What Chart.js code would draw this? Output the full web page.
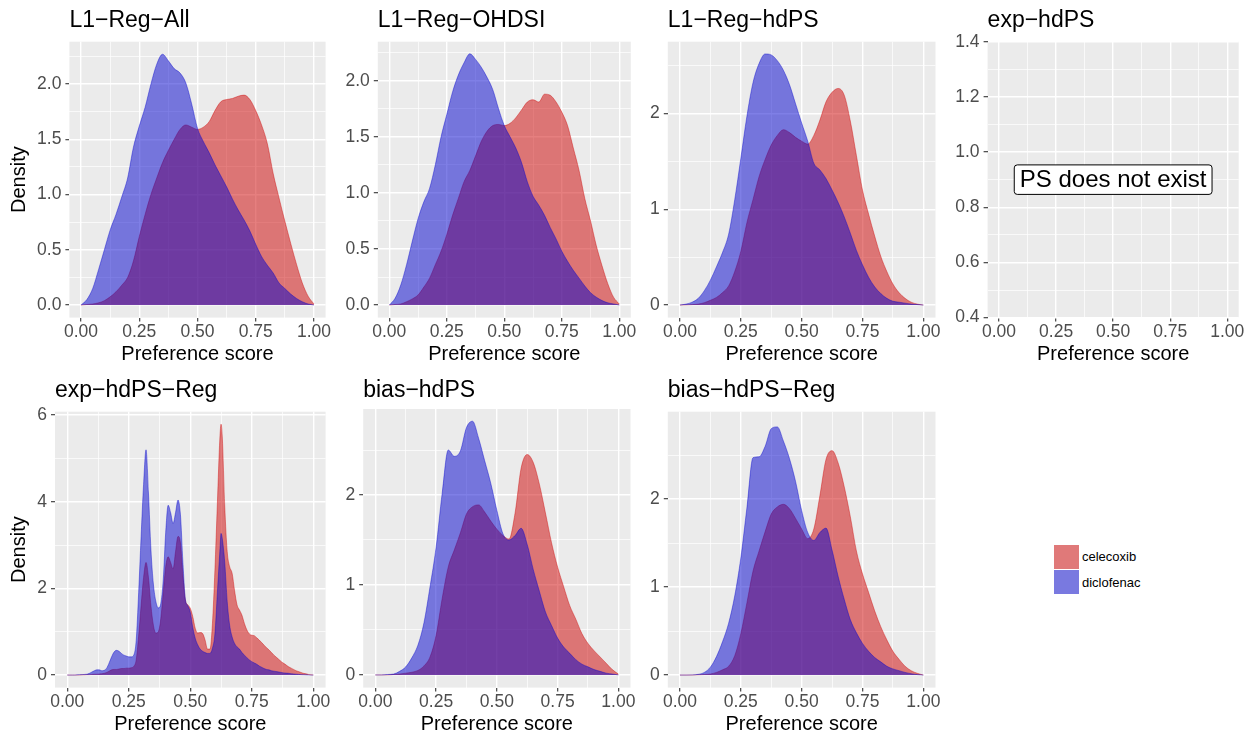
<!DOCTYPE html>
<html><head><meta charset="utf-8">
<script src="https://cdn.jsdelivr.net/npm/chart.js@4/dist/chart.umd.min.js"></script>
<style>
html,body{margin:0;padding:0;background:#fff;}
#wrap{position:relative;width:1257px;height:736px;overflow:hidden;background:#fff;}
#wrap canvas{position:absolute;left:0;top:0;}
.key{position:absolute;width:25px;height:24px;background:#F2F2F2;}
.key div{width:100%;height:100%;}
.lab{position:absolute;font-family:'Liberation Sans',Arial,sans-serif;font-size:13px;color:#000;line-height:16px;}
</style></head><body>
<div id="wrap">
  <div class="key" style="left:1054px;top:545px;"><div style="background:rgba(205,0,0,0.5)"></div></div>
  <div class="key" style="left:1054px;top:570px;"><div style="background:rgba(0,0,205,0.5)"></div></div>
  <div class="lab" style="left:1082px;top:549px;">celecoxib</div>
  <div class="lab" style="left:1082px;top:575px;">diclofenac</div>
</div>
<script>
// ---------------- DATA ----------------
const seriesNames = ['celecoxib', 'diclofenac'];
const panelTitles = ['L1\u2212Reg\u2212All', 'L1\u2212Reg\u2212OHDSI', 'L1\u2212Reg\u2212hdPS', 'exp\u2212hdPS',
                     'exp\u2212hdPS\u2212Reg', 'bias\u2212hdPS', 'bias\u2212hdPS\u2212Reg'];
const xAxisLabel = 'Preference score';
const yAxisLabel = 'Density';
const noteText = 'PS does not exist';

const xGrid = [0,0.025,0.05,0.075,0.1,0.125,0.15,0.175,0.2,0.225,0.25,0.275,0.3,0.325,0.35,0.375,0.4,0.425,0.45,0.475,
               0.5,0.525,0.55,0.575,0.6,0.625,0.65,0.675,0.7,0.725,0.75,0.775,0.8,0.825,0.85,0.875,0.9,0.925,0.95,0.975,1];

const xFine = [0,0.01,0.02,0.03,0.04,0.05,0.06,0.07,0.08,0.09,
               0.1,0.11,0.12,0.13,0.14,0.15,0.16,0.17,0.18,0.19,
               0.2,0.21,0.22,0.23,0.24,0.25,0.26,0.27,0.28,0.29,
               0.3,0.31,0.32,0.33,0.34,0.35,0.36,0.37,0.38,0.39,
               0.4,0.41,0.42,0.43,0.44,0.45,0.46,0.47,0.48,0.49,
               0.5,0.51,0.52,0.53,0.54,0.55,0.56,0.57,0.58,0.59,
               0.6,0.61,0.62,0.625,0.63,0.64,0.65,0.66,0.67,0.68,0.69,
               0.7,0.71,0.72,0.73,0.74,0.75,0.76,0.77,0.78,0.79,
               0.8,0.81,0.82,0.83,0.84,0.85,0.86,0.87,0.88,0.89,
               0.9,0.91,0.92,0.93,0.94,0.95,0.96,0.97,0.98,0.99,1];

// L1-Reg-All
const allCelecoxib = [0,0.005,0.01,0.02,0.04,0.075,0.12,0.18,0.25,0.4,0.62,0.82,1.0,1.15,1.29,1.4,1.5,1.59,1.63,1.61,
                      1.59,1.61,1.66,1.76,1.84,1.86,1.87,1.89,1.9,1.86,1.76,1.63,1.46,1.19,0.97,0.76,0.56,0.37,0.2,0.08,0.01];
const allDiclofenac = [0,0.05,0.15,0.32,0.5,0.68,0.82,0.98,1.15,1.43,1.62,1.79,2.0,2.18,2.27,2.21,2.14,2.1,2.01,1.82,
                       1.6,1.48,1.38,1.27,1.17,1.07,0.96,0.86,0.77,0.67,0.55,0.44,0.36,0.29,0.2,0.15,0.1,0.06,0.03,0.01,0];
// L1-Reg-OHDSI
const ohdsiCelecoxib = [0,0.005,0.01,0.03,0.055,0.09,0.16,0.24,0.36,0.48,0.63,0.8,0.95,1.1,1.2,1.33,1.46,1.55,1.6,1.61,
                        1.6,1.62,1.67,1.74,1.81,1.83,1.81,1.88,1.87,1.81,1.72,1.6,1.4,1.2,0.95,0.75,0.53,0.35,0.19,0.07,0.01];
const ohdsiDiclofenac = [0,0.06,0.18,0.36,0.57,0.77,0.92,1.04,1.25,1.5,1.7,1.9,2.05,2.16,2.24,2.19,2.12,2.03,1.92,1.75,
                         1.6,1.5,1.4,1.27,1.1,0.97,0.89,0.8,0.69,0.59,0.48,0.39,0.31,0.24,0.17,0.11,0.07,0.04,0.02,0.01,0];
// L1-Reg-hdPS
const hdpsCelecoxib = [0,0.002,0.005,0.01,0.025,0.05,0.08,0.13,0.2,0.35,0.56,0.86,1.1,1.34,1.52,1.67,1.77,1.83,1.8,1.75,
                       1.71,1.68,1.77,1.93,2.12,2.22,2.26,2.19,1.92,1.56,1.2,0.95,0.72,0.51,0.35,0.22,0.13,0.07,0.03,0.01,0];
const hdpsDiclofenac = [0,0.01,0.03,0.07,0.15,0.26,0.4,0.55,0.74,1.1,1.53,1.97,2.32,2.52,2.62,2.61,2.55,2.45,2.3,2.1,
                        1.9,1.71,1.48,1.41,1.32,1.2,1.07,0.92,0.75,0.57,0.42,0.29,0.19,0.12,0.07,0.04,0.03,0.02,0.01,0.005,0];
// exp-hdPS-Reg (on xFine)
const expRegCelecoxib = [0,0,0,0,0,0,0.005,0.005,0.01,0.01,
                         0.015,0.02,0.02,0.025,0.03,0.04,0.06,0.09,0.12,0.13,
                         0.13,0.14,0.15,0.15,0.16,0.16,0.17,0.2,0.35,0.9,
                         1.6,2.25,2.6,2.25,1.6,1.15,0.97,1.0,1.3,1.9,
                         2.5,2.73,2.6,2.45,2.85,3.2,3.05,2.3,1.73,1.62,
                         1.54,1.35,1.08,0.97,0.98,0.96,0.81,0.6,0.6,1.19,
                         2.42,3.96,5.45,5.79,5.5,3.9,2.85,2.5,2.35,1.95,1.62,
                         1.5,1.38,1.19,1.04,0.95,0.92,0.91,0.86,0.81,0.75,
                         0.69,0.63,0.58,0.52,0.46,0.41,0.36,0.31,0.27,0.23,
                         0.19,0.16,0.13,0.1,0.08,0.06,0.04,0.03,0.015,0.005,0];
const expRegDiclofenac = [0,0,0,0,0.005,0.01,0.01,0.015,0.02,0.04,
                          0.07,0.1,0.12,0.12,0.1,0.11,0.16,0.28,0.42,0.53,
                          0.57,0.55,0.5,0.46,0.44,0.42,0.42,0.46,0.8,1.9,
                          3.2,4.4,5.2,4.2,2.9,2.1,1.7,1.55,1.65,2.2,
                          3.3,3.92,3.75,3.5,3.75,4.04,3.7,2.6,1.75,1.6,
                          1.45,1.1,0.85,0.7,0.6,0.55,0.52,0.5,0.5,0.62,
                          0.95,1.9,2.85,3.27,3.15,2.6,1.7,1.15,0.88,0.73,0.65,
                          0.6,0.52,0.46,0.4,0.35,0.31,0.28,0.25,0.21,0.18,
                          0.15,0.13,0.12,0.1,0.09,0.08,0.07,0.06,0.05,0.045,
                          0.04,0.03,0.025,0.02,0.015,0.01,0.008,0.005,0.003,0.001,0];
// bias-hdPS
const biasCelecoxib = [0,0,0,0.005,0.01,0.02,0.03,0.05,0.1,0.2,0.44,0.85,1.2,1.39,1.58,1.79,1.87,1.89,1.81,1.71,
                       1.62,1.55,1.51,1.8,2.3,2.45,2.36,2.12,1.8,1.47,1.2,0.98,0.77,0.62,0.46,0.35,0.27,0.2,0.13,0.06,0.01];
const biasDiclofenac = [0,0,0.005,0.01,0.04,0.09,0.19,0.33,0.58,0.98,1.42,2.02,2.5,2.43,2.49,2.75,2.82,2.63,2.38,2.13,
                        1.83,1.57,1.5,1.55,1.63,1.45,1.17,0.93,0.7,0.55,0.41,0.31,0.24,0.17,0.12,0.09,0.06,0.04,0.02,0.01,0];
// bias-hdPS-Reg
const biasRegCelecoxib = [0,0,0,0.003,0.006,0.012,0.03,0.06,0.1,0.22,0.47,0.82,1.18,1.41,1.63,1.83,1.91,1.94,1.89,1.78,
                          1.66,1.55,1.66,2.04,2.45,2.55,2.41,2.14,1.8,1.41,1.15,0.94,0.73,0.55,0.4,0.27,0.18,0.1,0.05,0.02,0];
const biasRegDiclofenac = [0,0,0.002,0.008,0.03,0.09,0.21,0.38,0.59,0.9,1.33,1.9,2.47,2.48,2.6,2.8,2.82,2.66,2.46,2.2,
                           1.87,1.62,1.53,1.62,1.67,1.42,1.12,0.86,0.63,0.48,0.36,0.27,0.2,0.15,0.1,0.07,0.05,0.03,0.015,0.005,0];

// axis ticks
const xTickLabels = [0, 0.25, 0.5, 0.75, 1];
const yTicksAll = [0, 0.5, 1, 1.5, 2];
const yTicksOhdsi = [0, 0.5, 1, 1.5, 2];
const yTicksHdps = [0, 1, 2];
const yTicksEmpty = [0.4, 0.6, 0.8, 1.0, 1.2, 1.4];
const yTicksExpReg = [0, 2, 4, 6];
const yTicksBias = [0, 1, 2];
const yTicksBiasReg = [0, 1, 2];
// peak density of each panel, sets the y range
const densityPeaks = [2.27, 2.236, 2.617, null, 5.79, 2.815, 2.85];

// ---------------- LAYOUT ----------------
const FONT = "'Liberation Sans', Arial, Helvetica, sans-serif";
const RED = 'rgba(205,0,0,0.5)';
const BLUE = 'rgba(0,0,205,0.5)';
const W = 1257, H = 736;
const XH = 48.4;

const panels = [
  {title: panelTitles[0], xs: xGrid, cel: allCelecoxib, dic: allDiclofenac, yt: yTicksAll, dig: 1, peak: densityPeaks[0], box: [69.4, 41.7, 325.6, 317.6], ytitle: true, row: 0},
  {title: panelTitles[1], xs: xGrid, cel: ohdsiCelecoxib, dic: ohdsiDiclofenac, yt: yTicksOhdsi, dig: 1, peak: densityPeaks[1], box: [377.8, 41.7, 630.8, 317.6], ytitle: false, row: 0},
  {title: panelTitles[2], xs: xGrid, cel: hdpsCelecoxib, dic: hdpsDiclofenac, yt: yTicksHdps, dig: 0, peak: densityPeaks[2], box: [667.8, 41.7, 935.5, 317.6], ytitle: false, row: 0},
  {title: panelTitles[3], xs: null, cel: null, dic: null, yt: yTicksEmpty, dig: 1, peak: null, range: [0.4, 1.4], box: [987.6, 41.7, 1238.7, 317.6], ytitle: false, row: 0, note: true},
  {title: panelTitles[4], xs: xFine, cel: expRegCelecoxib, dic: expRegDiclofenac, yt: yTicksExpReg, dig: 0, peak: densityPeaks[4], box: [55, 411.7, 325.6, 687.6], ytitle: true, row: 1},
  {title: panelTitles[5], xs: xGrid, cel: biasCelecoxib, dic: biasDiclofenac, yt: yTicksBias, dig: 0, peak: densityPeaks[5], box: [363.2, 409, 630.5, 687.6], ytitle: false, row: 1},
  {title: panelTitles[6], xs: xGrid, cel: biasRegCelecoxib, dic: biasRegDiclofenac, yt: yTicksBiasReg, dig: 0, peak: densityPeaks[6], box: [667.8, 411.7, 935.5, 687.6], ytitle: false, row: 1}
];

function withMinor(major, lo, hi) {
  const step = major[1] - major[0];
  const out = [];
  if (major[0] - step / 2 > lo) out.push(major[0] - step / 2);
  major.forEach(v => { out.push(v); if (v + step / 2 < hi) out.push(v + step / 2); });
  return out.filter(v => v >= lo - 1e-9 && v <= hi + 1e-9);
}
function isMajor(v, major) { return major.some(m => Math.abs(m - v) < 1e-9); }

const bgPlugin = {
  id: 'panelBg',
  beforeDraw(chart) {
    const a = chart.chartArea, ctx = chart.ctx;
    ctx.save();
    ctx.fillStyle = '#EBEBEB';
    ctx.fillRect(a.left, a.top, a.right - a.left, a.bottom - a.top);
    ctx.restore();
  }
};
const notePlugin = {
  id: 'note',
  afterDraw(chart, args, opts) {
    if (!opts || !opts.text) return;
    const ctx = chart.ctx;
    const x = chart.scales.x.getPixelForValue(opts.x);
    const y = chart.scales.y.getPixelForValue(opts.y);
    ctx.save();
    ctx.font = '24px ' + FONT;
    const tw = ctx.measureText(opts.text).width;
    const bw = tw + 11, bh = 29.5, r = 3;
    const x0 = x - bw / 2, y0 = y - bh / 2;
    ctx.beginPath();
    ctx.moveTo(x0 + r, y0);
    ctx.lineTo(x0 + bw - r, y0); ctx.arcTo(x0 + bw, y0, x0 + bw, y0 + r, r);
    ctx.lineTo(x0 + bw, y0 + bh - r); ctx.arcTo(x0 + bw, y0 + bh, x0 + bw - r, y0 + bh, r);
    ctx.lineTo(x0 + r, y0 + bh); ctx.arcTo(x0, y0 + bh, x0, y0 + bh - r, r);
    ctx.lineTo(x0, y0 + r); ctx.arcTo(x0, y0, x0 + r, y0, r);
    ctx.closePath();
    ctx.fillStyle = '#fff'; ctx.fill();
    ctx.lineWidth = 1; ctx.strokeStyle = '#000'; ctx.stroke();
    ctx.fillStyle = '#000'; ctx.textAlign = 'center'; ctx.textBaseline = 'middle';
    ctx.fillText(opts.text, x, y + 1);
    ctx.restore();
  }
};

const wrap = document.getElementById('wrap');
panels.forEach((p, i) => {
  const cv = document.createElement('canvas');
  cv.width = W; cv.height = H;
  cv.style.width = W + 'px'; cv.style.height = H + 'px';
  wrap.appendChild(cv);

  const [L, T, R, B] = p.box;
  const ymin = p.range ? p.range[0] : -0.05 * p.peak;
  const ymax = p.range ? p.range[1] : 1.05 * p.peak;
  const yW = p.ytitle ? L - 7 : 40;
  const padL = L - yW;
  const padR = W - R;
  const padB = H - B - XH;
  const titleMid = p.row === 0 ? 20.4 : 390.4;
  const tLH = 23 * 1.2;
  const tPadTop = titleMid - tLH / 2;
  const tPadBot = T - titleMid - tLH / 2;

  const xTicks = withMinor(xTickLabels, -0.05, 1.05);
  const yTicks = withMinor(p.yt, ymin, ymax);

  const datasets = [];
  if (p.cel) {
    datasets.push({label: seriesNames[0], data: p.xs.map((x, k) => ({x: x, y: p.cel[k]})),
      backgroundColor: RED, borderColor: RED, borderWidth: 0.8, fill: 'origin', pointRadius: 0,
      cubicInterpolationMode: 'monotone', order: 2});
    datasets.push({label: seriesNames[1], data: p.xs.map((x, k) => ({x: x, y: p.dic[k]})),
      backgroundColor: BLUE, borderColor: BLUE, borderWidth: 0.8, fill: 'origin', pointRadius: 0,
      cubicInterpolationMode: 'monotone', order: 1});
  }

  new Chart(cv, {
    type: 'line',
    data: {datasets},
    plugins: [bgPlugin, notePlugin],
    options: {
      responsive: false, animation: false, devicePixelRatio: 1, events: [],
      layout: {padding: {left: padL, right: padR, top: 0, bottom: padB}},
      plugins: {
        legend: {display: false}, tooltip: {enabled: false},
        title: {display: true, text: p.title, align: 'start', fullSize: false, color: '#000',
                font: {family: FONT, size: 23, weight: 'normal', lineHeight: 1.2},
                padding: {top: tPadTop, bottom: tPadBot}},
        note: p.note ? {text: noteText, x: 0.5, y: 0.9} : {}
      },
      scales: {
        x: {
          type: 'linear', min: -0.05, max: 1.05, bounds: 'data',
          afterBuildTicks: s => { s.ticks = xTicks.map(v => ({value: v})); },
          afterFit: s => { s.height = XH; },
          border: {display: false},
          grid: {color: '#FFFFFF', lineWidth: c => (c.tick && isMajor(c.tick.value, xTickLabels)) ? 1.4 : 0.7,
                 drawTicks: true, tickLength: 4, tickWidth: 1.1,
                 tickColor: c => (c.tick && isMajor(c.tick.value, xTickLabels)) ? '#333333' : 'rgba(0,0,0,0)'},
          ticks: {autoSkip: false, maxRotation: 0, minRotation: 0, padding: 2, color: '#4D4D4D',
                  font: {family: FONT, size: 17.5, lineHeight: 1},
                  callback: v => isMajor(v, xTickLabels) ? Number(v).toFixed(2) : ''},
          title: {display: true, text: xAxisLabel, color: '#000', padding: 0,
                  font: {family: FONT, size: 20, lineHeight: 1.2}}
        },
        y: {
          type: 'linear', min: ymin, max: ymax, bounds: 'data',
          afterBuildTicks: s => { s.ticks = yTicks.map(v => ({value: v})); },
          afterFit: s => { s.width = yW; },
          border: {display: false},
          grid: {color: '#FFFFFF', lineWidth: c => (c.tick && isMajor(c.tick.value, p.yt)) ? 1.4 : 0.7,
                 drawTicks: true, tickLength: 4, tickWidth: 1.1,
                 tickColor: c => (c.tick && isMajor(c.tick.value, p.yt)) ? '#333333' : 'rgba(0,0,0,0)'},
          ticks: {autoSkip: false, padding: 4, color: '#4D4D4D',
                  font: {family: FONT, size: 17.5, lineHeight: 1},
                  callback: v => isMajor(v, p.yt) ? Number(v).toFixed(p.dig) : ''},
          title: {display: p.ytitle, text: yAxisLabel, color: '#000', padding: 0,
                  font: {family: FONT, size: 20, lineHeight: 1.2}}
        }
      }
    }
  });
});
</script>
</body></html>
